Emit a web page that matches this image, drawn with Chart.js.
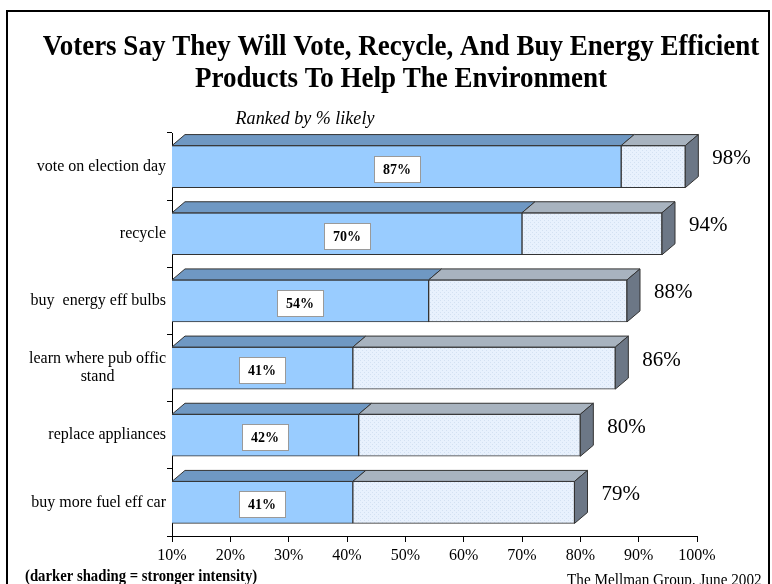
<!DOCTYPE html>
<html>
<head>
<meta charset="utf-8">
<script src="https://cdn.jsdelivr.net/npm/chart.js@4.4.0/dist/chart.umd.min.js"></script>
<style>
  html, body { margin: 0; padding: 0; background: #fff; }
  #wrap { width: 772px; height: 584px; position: relative; }
</style>
</head>
<body>
<div id="wrap"><canvas id="chart" width="772" height="584"></canvas></div>
<script>
// Données du graphique
const categories = [
  "vote on election day",
  "recycle",
  "buy  energy eff bulbs",
  ["learn where pub offic", "stand"],
  "replace appliances",
  "buy more fuel eff car"
];
const strongValues = [87, 70, 54, 41, 42, 41];   // partie foncée (intensité forte)
const totalValues = [98, 94, 88, 86, 80, 79];    // % total probable
const xTicks = [10, 20, 30, 40, 50, 60, 70, 80, 90, 100];

const titleLines = [
  "Voters Say They Will Vote, Recycle, And Buy Energy Efficient",
  "Products To Help The Environment"
];
const subtitleText = "Ranked by % likely";
const footLeft = "(darker shading = stronger intensity)";
const footRight = "The Mellman Group, June 2002";

// partie claire = total - partie foncée
const weakValues = totalValues.map((t, i) => t - strongValues[i]);

const SERIF = "'Liberation Serif', 'Times New Roman', serif";
const DEPTH_X = 13;
const DEPTH_Y = 11;

// Motif pointillé pour la partie claire
function makePattern() {
  const c = document.createElement('canvas');
  c.width = 4; c.height = 4;
  const g = c.getContext('2d');
  g.fillStyle = '#E8F1FD';
  g.fillRect(0, 0, 4, 4);
  g.fillStyle = '#D3E1F2';
  g.fillRect(0, 0, 1, 1);
  g.fillRect(2, 2, 1, 1);
  return g.createPattern(c, 'repeat');
}
const lightPattern = makePattern();

const faceColors = [
  { top: '#6F98C3', side: '#5B7EA6' },
  { top: '#A8B3BF', side: '#6C7786' }
];

// texte condensé horizontalement (comme l'original)
function squeezedText(ctx, text, x, y, sx) {
  ctx.save();
  ctx.translate(x, y);
  ctx.scale(sx, 1);
  ctx.fillText(text, 0, 0);
  ctx.restore();
}

// Plugin: faces 3D, étiquettes et textes
const decorPlugin = {
  id: 'decor',
  beforeDraw(chart) {
    const ctx = chart.ctx;
    ctx.save();
    ctx.fillStyle = '#fff';
    ctx.fillRect(0, 0, chart.width, chart.height);
    ctx.strokeStyle = '#000';
    ctx.lineWidth = 2;
    ctx.strokeRect(7, 11, 762, 620);
    ctx.restore();
  },
  afterDatasetsDraw(chart) {
    const ctx = chart.ctx;
    const area = chart.chartArea;
    ctx.save();
    ctx.strokeStyle = '#333';
    ctx.lineWidth = 1;
    const lastIdx = chart.data.datasets.length - 1;
    chart.data.datasets.forEach((ds, di) => {
      const meta = chart.getDatasetMeta(di);
      meta.data.forEach((bar) => {
        const left = Math.max(Math.min(bar.x, bar.base), area.left);
        const right = Math.max(bar.x, bar.base);
        const top = bar.y - bar.height / 2;
        const bottom = bar.y + bar.height / 2;
        // face du dessus
        ctx.beginPath();
        ctx.moveTo(left, top);
        ctx.lineTo(left + DEPTH_X, top - DEPTH_Y);
        ctx.lineTo(right + DEPTH_X, top - DEPTH_Y);
        ctx.lineTo(right, top);
        ctx.closePath();
        ctx.fillStyle = faceColors[di].top;
        ctx.fill();
        ctx.stroke();
        // face de droite (dernier segment)
        if (di === lastIdx) {
          ctx.beginPath();
          ctx.moveTo(right, top);
          ctx.lineTo(right + DEPTH_X, top - DEPTH_Y);
          ctx.lineTo(right + DEPTH_X, bottom - DEPTH_Y);
          ctx.lineTo(right, bottom);
          ctx.closePath();
          ctx.fillStyle = faceColors[di].side;
          ctx.fill();
          ctx.stroke();
        }
      });
    });

    // étiquettes de la partie foncée
    const m0 = chart.getDatasetMeta(0);
    ctx.font = "bold 14px " + SERIF;
    ctx.textAlign = 'center';
    ctx.textBaseline = 'middle';
    m0.data.forEach((bar, i) => {
      const left = Math.max(Math.min(bar.x, bar.base), area.left);
      const cx = Math.round((bar.x + left) / 2);
      const cy = Math.round(bar.y + 2);
      const w = 46, h = 26;
      ctx.fillStyle = '#fff';
      ctx.fillRect(cx - w / 2, cy - h / 2, w, h);
      ctx.strokeStyle = '#9a9a9a';
      ctx.strokeRect(cx - w / 2 + 0.5, cy - h / 2 + 0.5, w, h);
      ctx.fillStyle = '#000';
      ctx.fillText(strongValues[i] + '%', cx, cy + 1);
    });

    // totaux à droite
    const m1 = chart.getDatasetMeta(lastIdx);
    ctx.font = "21px " + SERIF;
    ctx.textAlign = 'left';
    m1.data.forEach((bar, i) => {
      ctx.fillText(totalValues[i] + '%', bar.x + DEPTH_X + 14, bar.y - 8);
    });

    // libellés des catégories (lignes centrées, bloc aligné à droite)
    const yScale = chart.scales.y;
    ctx.font = "16px " + SERIF;
    ctx.textAlign = 'center';
    categories.forEach((lab, i) => {
      const lines = Array.isArray(lab) ? lab : [lab];
      const wMax = Math.max(...lines.map(l => ctx.measureText(l).width));
      const cx = 166 - wMax / 2;
      const yc = yScale.getPixelForTick(i);
      const lh = 18;
      lines.forEach((l, k) => {
        ctx.fillText(l, cx, yc + (k - (lines.length - 1) / 2) * lh);
      });
    });

    // titres
    ctx.textBaseline = 'alphabetic';
    ctx.textAlign = 'center';
    ctx.font = "bold 30px " + SERIF;
    squeezedText(ctx, titleLines[0], 401, 55, 0.9);
    squeezedText(ctx, titleLines[1], 401, 87, 0.9);
    ctx.font = "italic 19px " + SERIF;
    squeezedText(ctx, subtitleText, 305, 124, 0.95);

    ctx.textAlign = 'left';
    ctx.font = "bold 16px " + SERIF;
    squeezedText(ctx, footLeft, 25, 581, 0.92);
    ctx.font = "16px " + SERIF;
    squeezedText(ctx, footRight, 567, 585, 0.95);
    ctx.restore();
  }
};

const ctx = document.getElementById('chart').getContext('2d');
const chart = new Chart(ctx, {
  type: 'bar',
  data: {
    labels: categories,
    datasets: [
      {
        label: 'strong',
        data: strongValues,
        backgroundColor: '#99CCFF',
        borderColor: '#333',
        borderWidth: 1,
        borderSkipped: false,
        barThickness: 42
      },
      {
        label: 'total',
        data: weakValues,
        backgroundColor: lightPattern,
        borderColor: '#333',
        borderWidth: 1,
        borderSkipped: false,
        barThickness: 42
      }
    ]
  },
  options: {
    indexAxis: 'y',
    responsive: false,
    animation: false,
    devicePixelRatio: 1,
    layout: { padding: { top: 133, right: 75, bottom: 20, left: 0 } },
    plugins: {
      legend: { display: false },
      tooltip: { enabled: false },
      title: { display: false }
    },
    scales: {
      x: {
        stacked: true,
        min: 10,
        max: 100,
        afterBuildTicks(scale) {
          scale.ticks = xTicks.map(v => ({ value: v }));
        },
        afterFit(scale) { scale.height = 28; },
        grid: { drawOnChartArea: false, drawTicks: true, tickLength: 6, color: '#000' },
        border: { display: true, color: '#000', width: 1 },
        ticks: {
          padding: 4,
          color: '#000',
          font: { family: SERIF, size: 16 },
          callback: v => v + '%'
        }
      },
      y: {
        stacked: true,
        afterFit(scale) { scale.width = 172; },
        grid: { drawOnChartArea: false, drawTicks: true, tickLength: 5, color: '#000', offset: true },
        border: { display: true, color: '#000', width: 1 },
        ticks: { display: false }
      }
    }
  },
  plugins: [decorPlugin]
});
</script>
</body>
</html>
